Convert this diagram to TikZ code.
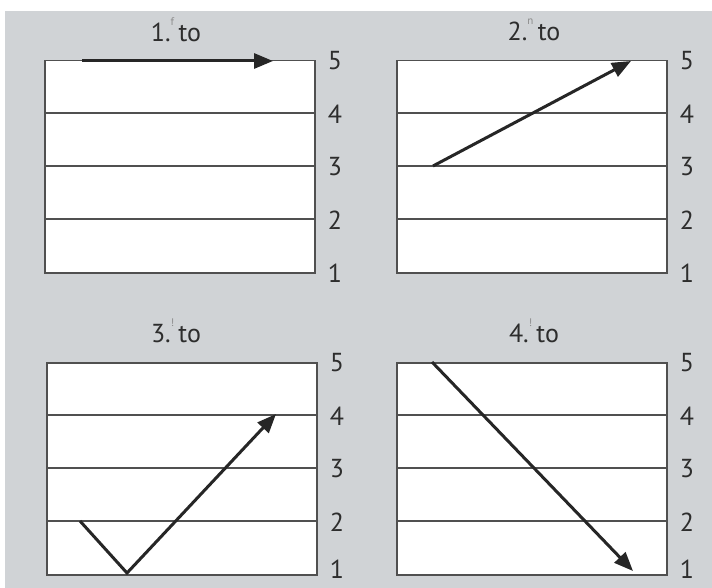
\documentclass[tikz,border=0pt]{standalone}
\usepackage{fontspec}
\setmainfont{PT Sans}
\usetikzlibrary{arrows.meta,positioning}

\definecolor{sheetgray}{RGB}{208,211,214}
\definecolor{rulegray}{RGB}{80,80,80}
\definecolor{inkgray}{RGB}{45,45,45}

\begin{document}
\begin{tikzpicture}[
    x=1pt, y=-1pt,
    panel/.style={
      draw=rulegray,
      fill=white,
      line width=1.5pt,
      anchor=north west,
      inner sep=0pt,
      minimum width=270pt,
      minimum height=212pt
    },
    rule/.style={draw=rulegray, line width=1.5pt},
    level/.style={font=\fontsize{26}{26}\selectfont, text=inkgray, inner sep=0pt},
    title/.style={font=\fontsize{26}{26}\selectfont, text=inkgray},
    move/.style={draw=black!85, line width=3pt, line join=miter,
      -{Triangle[length=19pt,width=15pt]}}
  ]
    \useasboundingbox (0,0) rectangle (712,588);
    \fill[sheetgray] (5,11) rectangle (712,588);

    % four panels with their levels
    \foreach \p/\x/\y in {p1/44/60, p2/396/60, p3/46/362, p4/396/362} {
      \node[panel] (\p) at (\x,\y) {};
      \foreach \lv in {2,3,4}
        \draw[rule] (\x,{\y+(5-\lv)*53}) -- ++(270,0);
      \foreach \lv in {1,...,5} {
        \pgfmathsetmacro{\ly}{min(\y+(5-\lv)*53+1,569)}
        \node[level] (\p-\lv) at ({\x+291},\ly) {\lv};
      }
    }

    \node[title] (t1) at (176,30) {1.\raisebox{1.2ex}{\fontsize{11}{11}\selectfont\color{black!45}f}\,to};
    \node[title] (t2) at (534,30) {2.\raisebox{1.2ex}{\fontsize{11}{11}\selectfont\color{black!45}n}\,to};
    \node[title] (t3) at (176,331) {3.\raisebox{1.2ex}{\fontsize{11}{11}\selectfont\color{black!45}!}\,to};
    \node[title] (t4) at (534,331) {4.\raisebox{1.2ex}{\fontsize{11}{11}\selectfont\color{black!45}!}\,to};

    % end points of the moves
    \coordinate (a1) at (82,61);
    \coordinate (b1) at (273,61);
    \coordinate (a2) at (433,166);
    \coordinate (b2) at (631,61);
    \coordinate (a3) at (80,521);
    \coordinate (m3) at (127,573);
    \coordinate (b3) at (276,414);
    \coordinate (a4) at (432,362);
    \coordinate (b4) at (633,571);

    \draw[move] (a1) -- (b1);
    \draw[move] (a2) -- (b2);
    \draw[move] (a3) -- (m3) -- (b3);
    \draw[move] (a4) -- (b4);
  \end{tikzpicture}
\end{document}
